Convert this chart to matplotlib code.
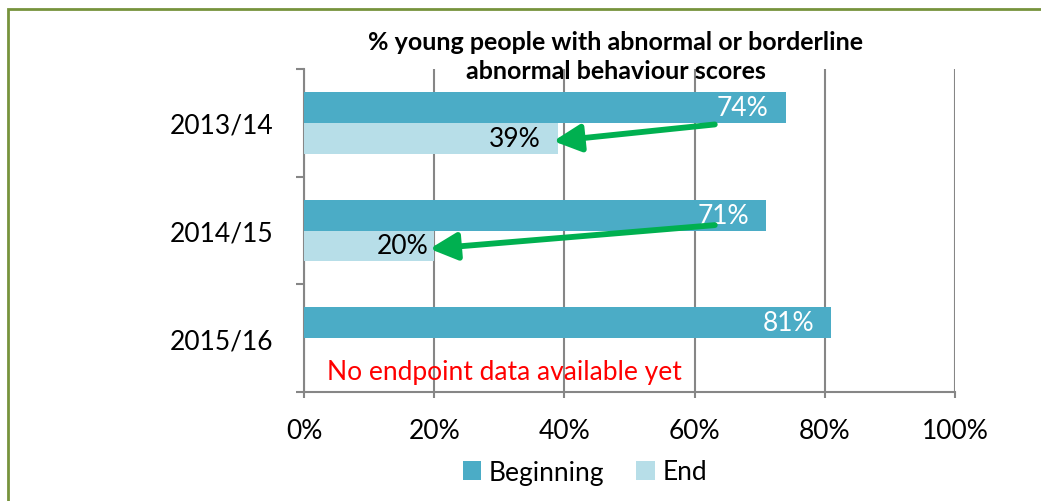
import matplotlib
matplotlib.use("Agg")
import matplotlib.pyplot as plt
from matplotlib.patches import Patch, Rectangle

plt.rcParams['font.family'] = ['Lato', 'DejaVu Sans']

# ---- data ----
categories = ["2013/14", "2014/15", "2015/16"]
beginning = [74, 71, 81]
end = [39, 20, None]
x_ticks = [0, 20, 40, 60, 80, 100]
x_tick_labels = ["0%", "20%", "40%", "60%", "80%", "100%"]
title = "% young people with abnormal or borderline\nabnormal behaviour scores"
note = "No endpoint data available yet"

# ---- style ----
C_BEG = "#4BACC6"
C_END = "#B7DEE8"
C_GRID = "#868686"
C_ARROW = "#00B050"
C_BORDER = "#77933C"
FS = 19

W, H = 1041, 502
fig = plt.figure(figsize=(W / 100, H / 100), dpi=100)
ax = fig.add_axes([304 / W, 1 - 393 / H, (955 - 304) / W, (393 - 70) / H])

bh = 0.287
ys = list(range(len(categories)))

for i, y in enumerate(ys):
    b = beginning[i]
    ax.barh(y - bh / 2, b, height=bh, color=C_BEG, zorder=3)
    ax.annotate(f"{b}%", (b, y - bh / 2), xytext=(-17, 0), textcoords="offset pixels",
                ha="right", va="center", color="white", fontsize=FS, zorder=5)
    e = end[i]
    if e is not None:
        ax.barh(y + bh / 2, e, height=bh, color=C_END, zorder=3)

end_label_pad = [17, 6]
for i, y in enumerate(ys):
    e = end[i]
    if e is not None:
        ax.annotate(f"{e}%", (e, y + bh / 2), xytext=(-end_label_pad[i], 0),
                    textcoords="offset pixels", ha="right", va="center",
                    color="black", fontsize=FS, zorder=5)

# arrows from beginning label to end bar
arrow_start_x = 63.1
arrow_start_dy = [0.015, -0.05]
for i, y in enumerate(ys):
    e = end[i]
    if e is None:
        continue
    ax.annotate("", xy=(e - 0.7, y + 0.17), xytext=(arrow_start_x, y + arrow_start_dy[i]),
                arrowprops=dict(arrowstyle="-|>,head_length=1.1,head_width=0.55",
                                lw=4.2, color=C_ARROW, shrinkA=0, shrinkB=0,
                                mutation_scale=15),
                zorder=6)

ax.text(3.5, 2 + 0.31, note, color="red", fontsize=FS, ha="left", va="center", zorder=5)

ax.set_xlim(0, 100)
ax.set_ylim(2.5, -0.5)
ax.set_xticks(x_ticks)
ax.set_xticklabels(x_tick_labels, fontsize=FS)
ax.xaxis.grid(True, color=C_GRID, lw=1.5, zorder=0)
ax.set_axisbelow(True)

ax.set_yticks([-0.5, 0.5, 1.5, 2.5])
ax.set_yticklabels([])
ax.set_yticks(ys, minor=True)
ax.set_yticklabels(categories, minor=True, fontsize=FS)
ax.tick_params(axis="y", which="major", length=6, width=1.5, color=C_GRID, direction="out")
ax.tick_params(axis="y", which="minor", length=0, pad=22)
ax.tick_params(axis="x", length=4, width=1.5, color=C_GRID, pad=15)

for s in ["top", "right"]:
    ax.spines[s].set_visible(False)
for s in ["left", "bottom"]:
    ax.spines[s].set_color(C_GRID)
    ax.spines[s].set_linewidth(1.5)

fig.text(616 / W, 1 - 57 / H, title, ha="center", va="center", fontsize=18,
         fontweight="bold", linespacing=1.28)

handles = [Patch(facecolor=C_BEG, label="Beginning"), Patch(facecolor=C_END, label="End")]
fig.legend(handles=handles, loc="center", bbox_to_anchor=(585 / W, 1 - 473 / H),
           ncol=2, frameon=False, fontsize=FS, handlelength=0.7, handleheight=0.7,
           handletextpad=0.3, columnspacing=1.2)

fig.patches.append(Rectangle((8 / W, -0.1), 1.2, 1 - 10 / H + 0.1, transform=fig.transFigure,
                             fill=False, edgecolor=C_BORDER, lw=2))

fig.savefig("out.png", dpi=100)
